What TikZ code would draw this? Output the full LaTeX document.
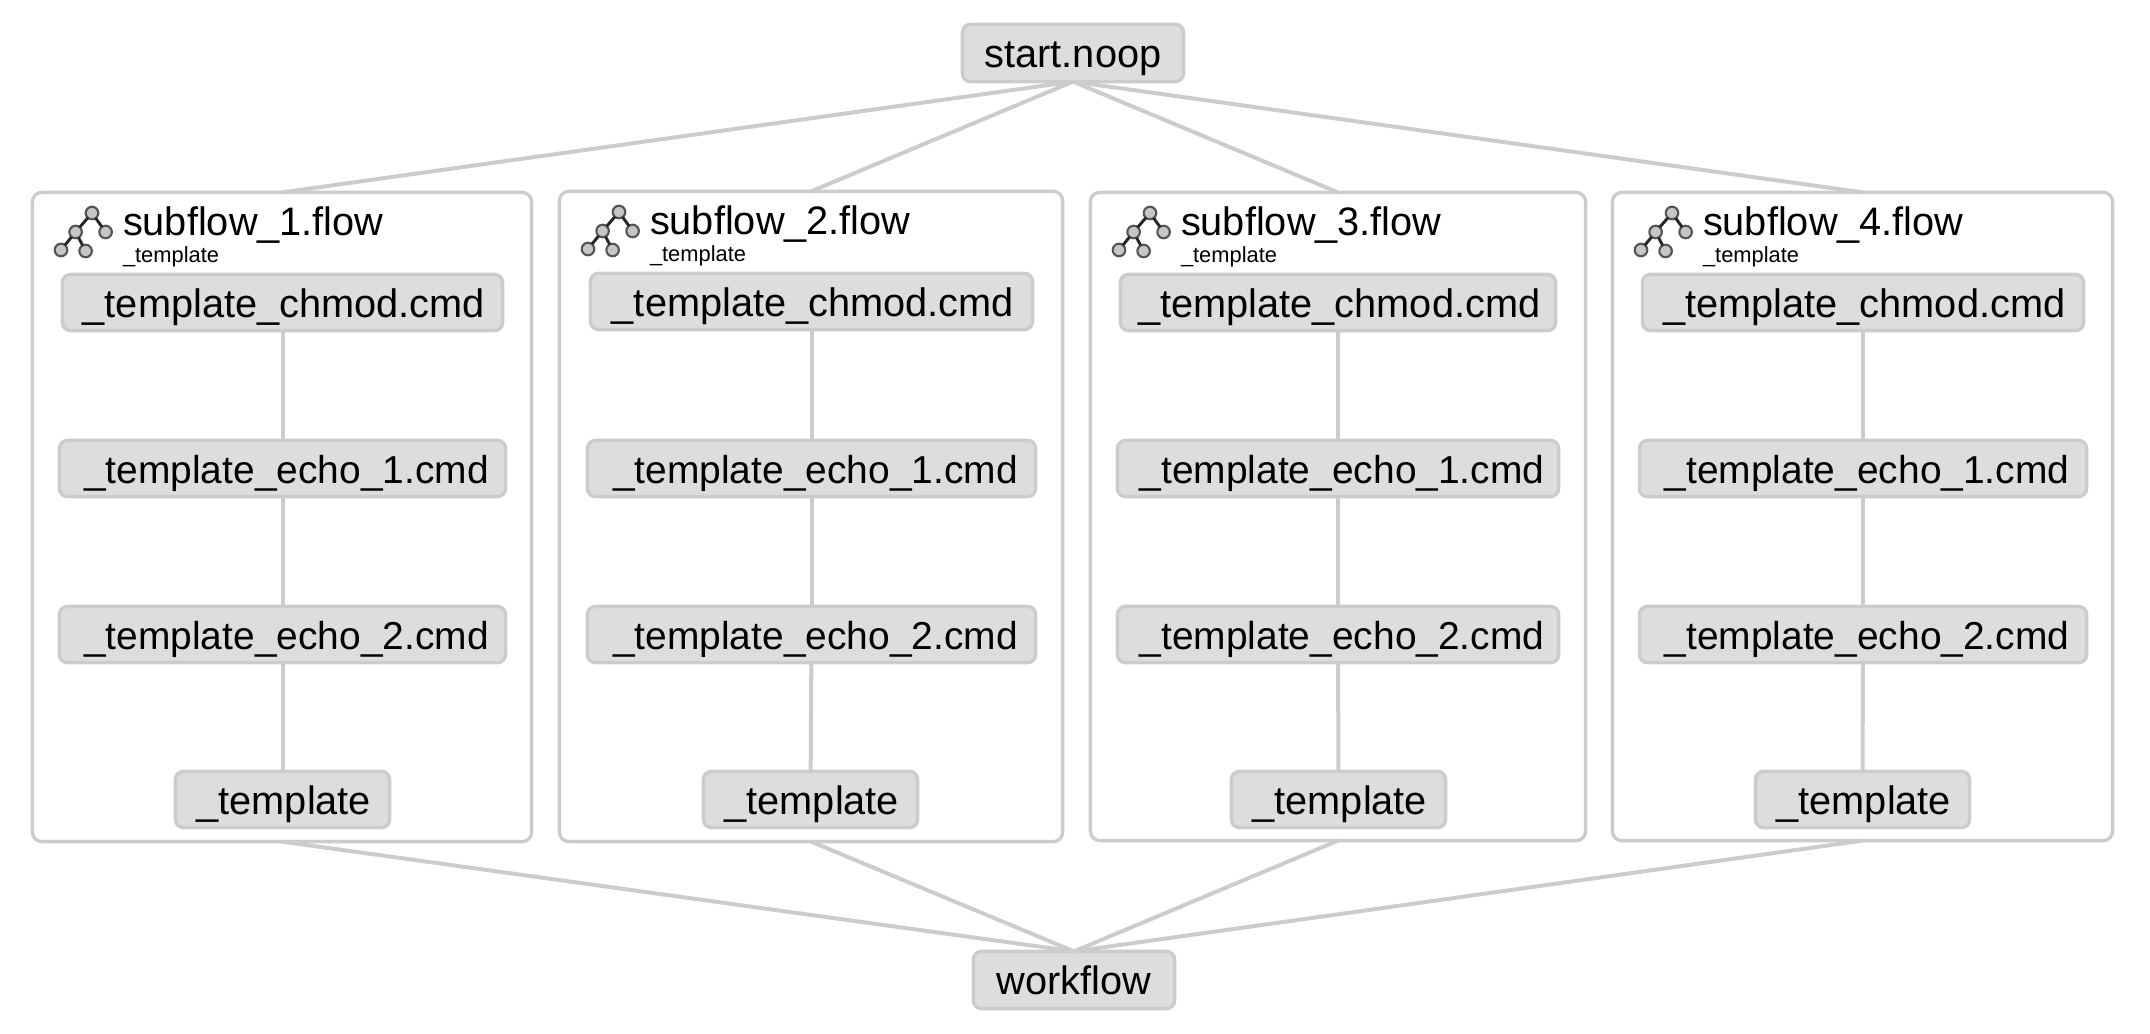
\documentclass[tikz,border=0pt]{standalone}
\usepackage{fontspec}
\setmainfont{Liberation Sans}
\definecolor{edgegray}{HTML}{CCCCCC}
\definecolor{nodegray}{HTML}{DDDDDD}
\definecolor{icongray}{HTML}{555555}
\tikzset{
  taskbox/.style={draw=edgegray,fill=nodegray,line width=2.5pt,rounded corners=6pt,inner sep=0pt,outer sep=0pt,
    font=\fontsize{29.8}{34}\selectfont,text=black,text height=26pt,text depth=4pt},
  flowframe/.style={draw=edgegray,fill=white,line width=2.5pt,rounded corners=7pt,inner sep=0pt,outer sep=0pt},
  link/.style={draw=edgegray,line width=3pt},
  titletext/.style={inner sep=0pt,outer sep=0pt,anchor=base west,font=\fontsize{29.8}{34}\selectfont,text=black},
  subtext/.style={inner sep=0pt,outer sep=0pt,anchor=base west,font=\fontsize{16.4}{20}\selectfont,text=black},
  icondot/.style={circle,draw=icongray,fill=nodegray!75!gray,line width=1.6pt,minimum size=9.4pt,inner sep=0pt,outer sep=0pt},
  iconline/.style={draw=black!85,line width=2.2pt}
}
\newcommand\echofont{\fontsize{29.2}{34}\selectfont\hspace*{6pt}}
% box: name, left, right, top, bottom (outer edges in px), style, text
\newcommand\pxbox[7]{\node[#6,minimum width={((#3)-(#2)-0.8)*0.75pt},minimum height={((#5)-(#4)-0.8)*0.75pt}] (#1) at ({((#2)+(#3))/2},{((#4)+(#5))/2}) {#7};}
% column: n, frame l r t b, chmod l, chmod r, template l
\newcommand\flowcol[8]{%
  \pxbox{f#1}{#2}{#3}{#4}{#5}{flowframe}{}
  \node[titletext] (title#1) at (#2+91,#4+44) {subflow\_#1.flow};
  \node[subtext] (sub#1) at (#2+91,#4+71) {\_template};
  \node[icondot] (ia#1) at (#2+60,#4+21) {};
  \node[icondot] (ib#1) at (#2+73.6,#4+40) {};
  \node[icondot] (ic#1) at (#2+43.6,#4+40) {};
  \node[icondot] (id#1) at (#2+29,#4+58) {};
  \node[icondot] (ie#1) at (#2+53.6,#4+59) {};
  \draw[iconline] (ia#1) -- (ib#1) (ia#1) -- (ic#1) (ic#1) -- (id#1) (ic#1) -- (ie#1);
  \pxbox{c#1}{#6}{#7}{#4+82}{#4+139}{taskbox}{\hspace*{2pt}\_template\_chmod.cmd}
  \pxbox{e#1}{#6-3}{#7+3}{440}{497}{taskbox}{\echofont\_template\_echo\_1.cmd}
  \pxbox{g#1}{#6-3}{#7+3}{606}{663}{taskbox}{\echofont\_template\_echo\_2.cmd}
  \pxbox{t#1}{#8}{#8+215}{771}{828}{taskbox}{\hspace*{2pt}\_template}
  \draw[link] (c#1) -- (e#1);
  \draw[link] (e#1) -- (g#1);
  \draw[link] (g#1) -- (t#1);
  \draw[link] (start.south) -- (f#1.north);
  \draw[link] (f#1.south) -- (flow.north);
}
\begin{document}
\begin{tikzpicture}[x=0.75pt,y=-0.75pt]
\useasboundingbox (0,0) rectangle (2150,1034);
\pxbox{start}{962}{1184}{24}{82}{taskbox}{start.noop}
\pxbox{flow}{973}{1175}{951}{1009}{taskbox}{workflow}
\flowcol{1}{32}{532}{192}{842}{62}{503}{175}
\flowcol{2}{559}{1063}{191}{842}{590}{1033}{703}
\flowcol{3}{1090}{1586}{192}{841}{1120}{1556}{1231}
\flowcol{4}{1612}{2113}{192}{841}{1642}{2084}{1755}
\end{tikzpicture}
\end{document}
